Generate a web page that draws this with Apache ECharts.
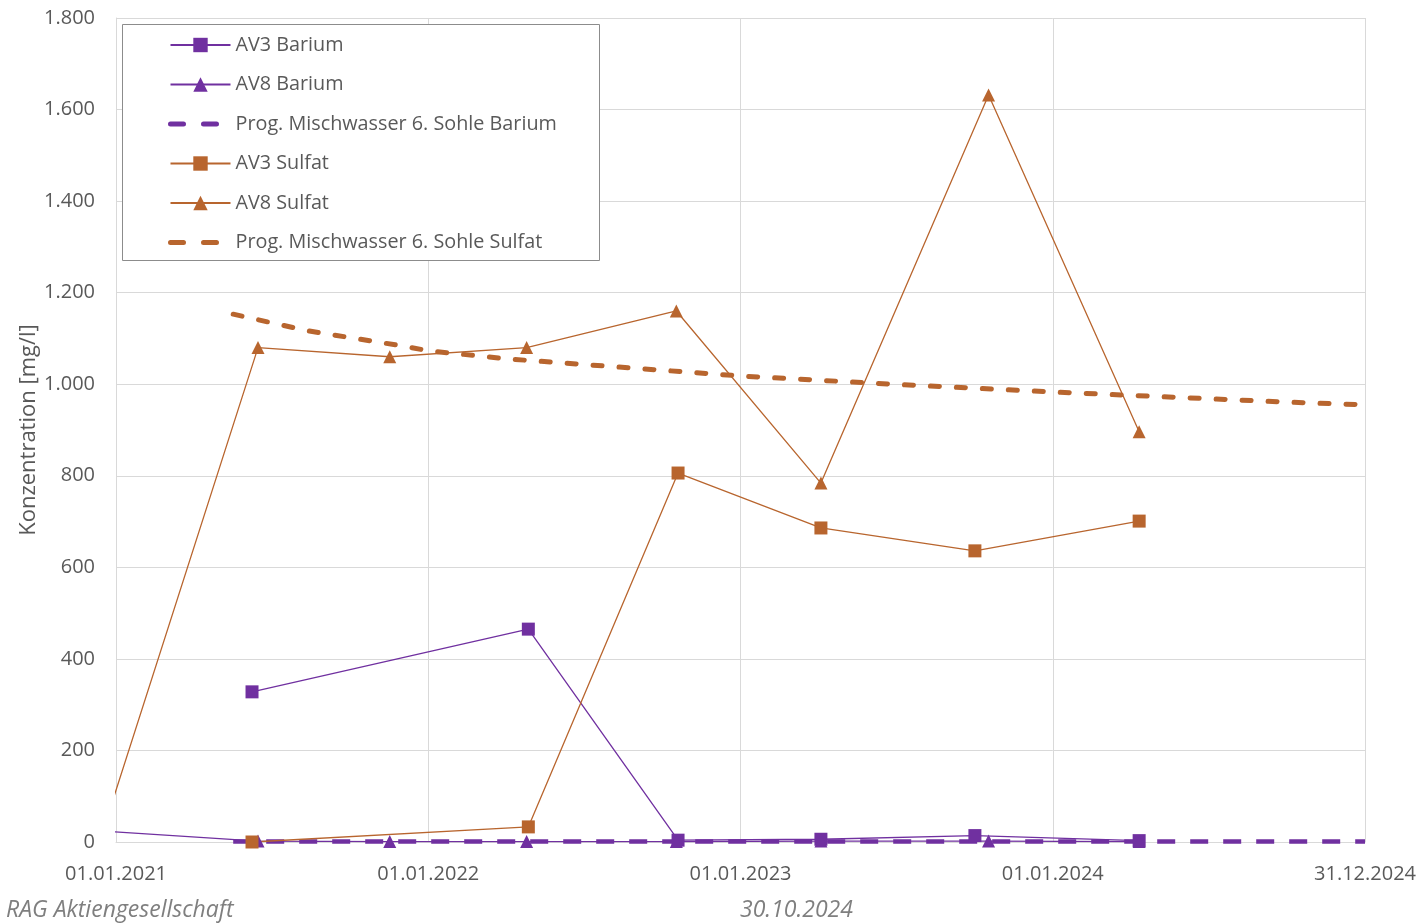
<!DOCTYPE html>
<html>
<head>
<meta charset="utf-8">
<script src="https://cdn.jsdelivr.net/npm/echarts@6/dist/echarts.min.js"></script>
<style>
  html, body { margin: 0; padding: 0; background: #fff; }
  #chart { width: 1419px; height: 924px; }
</style>
</head>
<body>
<div id="chart"></div>
<script>
// sampling dates
const av3Dates = ['2021-06-09', '2022-04-28', '2022-10-20', '2023-04-05', '2023-10-02', '2024-04-11'];
const av8Dates = ['2020-12-15', '2021-06-16', '2021-11-17', '2022-04-26', '2022-10-18', '2023-04-05', '2023-10-18', '2024-04-11'];
const progDates = ['2021-05-18', '2021-08-12', '2021-12-07', '2022-01-01', '2022-04-06', '2023-01-01', '2023-06-28', '2024-01-01', '2024-10-01', '2024-12-31'];

// values in mg/l
const av3Barium = [328, 465, 4, 6, 14, 3];
const av8Barium = [24, 2, 1, 1, 1, 2, 2, 1];
const progBarium = [1, 1, 1, 1, 1, 1, 1, 1, 1, 1];
const av3Sulfat = [0, 33, 806, 686, 636, 701];
const av8Sulfat = [14, 1080, 1060, 1080, 1160, 784, 1632, 896];
const progSulfat = [1153, 1117, 1082, 1073, 1055, 1018, 1000, 983, 961, 955];

const seriesNames = [
  'AV3 Barium',
  'AV8 Barium',
  'Prog. Mischwasser 6. Sohle Barium',
  'AV3 Sulfat',
  'AV8 Sulfat',
  'Prog. Mischwasser 6. Sohle Sulfat'
];

const purple = '#7030A0';
const orange = '#B8652E';
const textColor = '#595959';
const gridColor = '#d9d9d9';
const fontFamily = '"Open Sans", "Noto Sans", sans-serif';

const base = Date.UTC(2021, 0, 1);
const dayMs = 86400000;
const toDay = s => {
  const [y, m, d] = s.split('-').map(Number);
  return Math.round((Date.UTC(y, m - 1, d) - base) / dayMs);
};
const pad = n => String(n).padStart(2, '0');
const dayLabel = v => {
  const dt = new Date(base + v * dayMs);
  return pad(dt.getUTCDate()) + '.' + pad(dt.getUTCMonth() + 1) + '.' + dt.getUTCFullYear();
};
const zip = (dates, vals) => dates.map((d, i) => [toDay(d), vals[i]]);

const chart = echarts.init(document.getElementById('chart'));

function lineSeries(name, dates, vals, color, symbol) {
  return {
    name,
    type: 'line',
    data: zip(dates, vals),
    symbol,
    symbolSize: 13,
    showSymbol: true,
    clip: true,
    lineStyle: { color, width: 1.3 },
    itemStyle: { color },
    emphasis: { disabled: true },
    z: 3
  };
}

function progSeries(name, vals, color, width, dash, cap) {
  return {
    name,
    type: 'line',
    data: zip(progDates, vals),
    symbol: 'none',
    clip: true,
    lineStyle: { color, width, type: dash, cap },
    itemStyle: { color },
    emphasis: { disabled: true },
    z: 2
  };
}

// dashed legend entries: no marker, two thick dashes
const legendData = seriesNames.map((name, i) =>
  i === 2 || i === 5
    ? { name, itemStyle: { opacity: 0 }, lineStyle: { width: 5, type: [13, 20], cap: 'round' } }
    : { name }
);

chart.setOption({
  backgroundColor: '#ffffff',
  animation: false,
  textStyle: { fontFamily },
  grid: { left: 116, right: 54, top: 18, bottom: 82, containLabel: false },
  xAxis: {
    type: 'value',
    min: 0,
    max: 1460,
    interval: 365,
    axisLine: { show: true, lineStyle: { color: gridColor, width: 1 } },
    axisTick: { show: false },
    axisLabel: {
      color: textColor,
      fontSize: 20,
      fontFamily,
      margin: 22,
      showMinLabel: true,
      showMaxLabel: true,
      formatter: v => dayLabel(v)
    },
    splitLine: { show: true, lineStyle: { color: gridColor, width: 1 } }
  },
  yAxis: {
    type: 'value',
    min: 0,
    max: 1800,
    interval: 200,
    name: 'Konzentration [mg/l]',
    nameLocation: 'middle',
    nameGap: 76,
    nameMoveOverlap: false,
    nameTextStyle: { color: textColor, fontSize: 22, fontFamily },
    axisLine: { show: true, lineStyle: { color: gridColor, width: 1 } },
    axisTick: { show: false },
    axisLabel: {
      color: textColor,
      fontSize: 20,
      fontFamily,
      margin: 21,
      formatter: v => String(v).replace(/\B(?=(\d{3})+(?!\d))/g, '.')
    },
    splitLine: { show: true, lineStyle: { color: gridColor, width: 1 } }
  },
  legend: {
    orient: 'vertical',
    left: 122,
    top: 24,
    padding: [11, 45, 10, 46],
    itemWidth: 60,
    itemHeight: 18,
    itemGap: 19.5,
    backgroundColor: 'transparent',
    selectedMode: false,
    z: 20,
    textStyle: { color: textColor, fontSize: 19.8, lineHeight: 20, fontFamily },
    data: legendData
  },
  graphic: [
    {
      type: 'rect',
      z: 15,
      shape: { x: 122.5, y: 24.5, width: 477, height: 236 },
      style: { fill: '#ffffff', stroke: '#8c8c8c', lineWidth: 1 }
    },
    {
      type: 'text',
      left: 6,
      top: 899,
      style: { text: 'RAG Aktiengesellschaft', fill: '#7f7f7f', font: 'italic 23px ' + fontFamily }
    },
    {
      type: 'text',
      left: 740,
      top: 899,
      style: { text: '30.10.2024', fill: '#7f7f7f', font: 'italic 23px ' + fontFamily }
    }
  ],
  series: [
    lineSeries(seriesNames[0], av3Dates, av3Barium, purple, 'rect'),
    lineSeries(seriesNames[1], av8Dates, av8Barium, purple, 'triangle'),
    progSeries(seriesNames[2], progBarium, purple, 4.5, [18, 15], 'butt'),
    lineSeries(seriesNames[3], av3Dates, av3Sulfat, orange, 'rect'),
    lineSeries(seriesNames[4], av8Dates, av8Sulfat, orange, 'triangle'),
    progSeries(seriesNames[5], progSulfat, orange, 5, [9, 17], 'round')
  ]
});
</script>
</body>
</html>
